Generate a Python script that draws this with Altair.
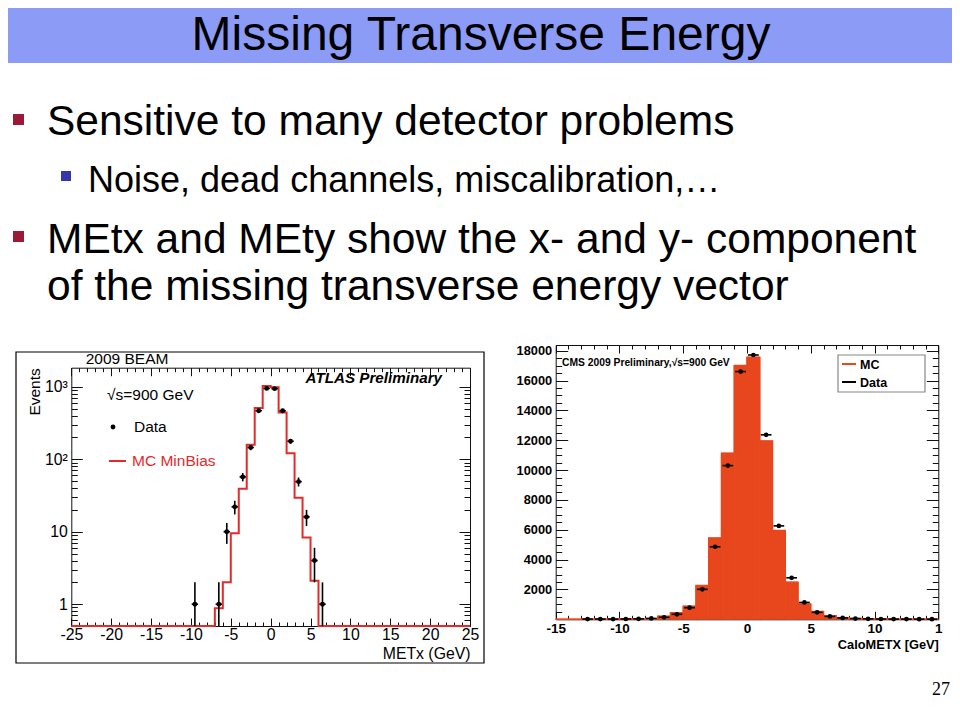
import altair as alt
import pandas as pd

FONT = "Liberation Sans"
RED = "#e52a2a"
ORANGE = "#e8461c"

# ---------------- slide text ----------------
slide_title = "Missing Transverse Energy"
bullet_1 = "Sensitive to many detector problems"
sub_bullet_1 = "Noise, dead channels, miscalibration,…"
bullet_2a = "MEtx and MEty show the x- and y- component"
bullet_2b = "of the missing transverse energy vector"
page_no = "27"

# ---------------- ATLAS plot data ----------------
atlas_bin_lo = [-7, -6, -5, -4, -3, -2, -1, 0, 1, 2, 3, 4, 5]          # bins of 1 GeV
atlas_mc = [0.88, 2.0, 9.5, 39, 158, 507, 1020, 980, 442, 121, 29.5, 8.3, 2.1]
atlas_x = [-9.5, -6.5, -5.5, -4.5, -3.5, -2.5, -1.5, -0.5, 0.5, 1.5, 2.5, 3.5, 4.5, 5.5, 6.5]
atlas_n = [1, 1, 10, 22, 57, 145, 466, 948, 940, 466, 177, 49, 16, 4, 1]
atlas_err = [1, 1, 3.2, 4.7, 7.5, 12, 21.6, 30.8, 30.7, 21.6, 13.3, 7, 4, 2, 1]

# ---------------- CMS plot data ----------------
cms_bin_lo = [-15, -14, -13, -12, -11, -10, -9, -8, -7, -6, -5, -4, -3, -2, -1,
              0, 1, 2, 3, 4, 5, 6, 7, 8, 9, 10, 11, 12, 13, 14]
cms_mc = [5, 5, 5, 8, 10, 12, 20, 45, 200, 440, 880, 2260, 5440, 11130, 17000,
          17560, 11950, 5950, 2490, 1020, 520, 230, 100, 50, 25, 15, 10, 8, 6, 5]
cms_x = [-12.5, -11.5, -10.5, -9.5, -8.5, -7.5, -6.5, -5.5, -4.5, -3.5, -2.5, -1.5, -0.5,
         0.5, 1.5, 2.5, 3.5, 4.5, 5.5, 6.5, 7.5, 8.5, 9.5, 10.5, 11.5, 12.5, 13.5, 14.5]
cms_n = [15, 15, 15, 20, 30, 60, 135, 335, 780, 2010, 4860, 10300, 16600,
         17710, 12360, 6260, 2780, 1130, 465, 190, 90, 50, 30, 20, 15, 12, 10, 10]

# ---------------- tables ----------------
L_FLOOR = 0.5
df_lstep = pd.DataFrame({
    "x": [-25] + atlas_bin_lo + [atlas_bin_lo[-1] + 1, 25],
    "y": [L_FLOOR] + atlas_mc + [L_FLOOR, L_FLOOR],
})
df_lpts = pd.DataFrame({"x": atlas_x, "n": atlas_n, "e": atlas_err})
df_lpts["lo"] = (df_lpts["n"] - df_lpts["e"]).clip(lower=L_FLOOR)
df_lpts["hi"] = df_lpts["n"] + df_lpts["e"]
df_lpts["xlo"] = df_lpts["x"] - 0.4
df_lpts["xhi"] = df_lpts["x"] + 0.4

df_rbars = pd.DataFrame({"lo": cms_bin_lo, "v": cms_mc})
df_rbars["hi"] = df_rbars["lo"] + 1
df_rstep = pd.DataFrame({"x": cms_bin_lo + [cms_bin_lo[-1] + 1], "y": cms_mc + [cms_mc[-1]]})
df_rpts = pd.DataFrame({"x": cms_x, "n": cms_n})
df_rpts["xlo"] = df_rpts["x"] - 0.42
df_rpts["xhi"] = df_rpts["x"] + 0.42

ONE = pd.DataFrame({"k": [0]})

W, H = 944, 704

# ---------------- scales ----------------
L_X0, L_X1, L_YB, L_YT = 63.3, 462.0, 618.0, 359.7
R_X0, R_X1, R_YB, R_YT = 547.7, 930.3, 611.3, 337.0

L_XS = alt.Scale(domain=[-25, 25], range=[L_X0, L_X1], nice=False, zero=False)
L_YS = alt.Scale(type="log", domain=[L_FLOOR, 1830], range=[L_YB, L_YT], nice=False)
R_XS = alt.Scale(domain=[-15, 15], range=[R_X0, R_X1], nice=False, zero=False)
R_YS = alt.Scale(domain=[0, 18380], range=[R_YB, R_YT], nice=False, zero=False)

L_XMAJ = [-25, -20, -15, -10, -5, 0, 5, 10, 15, 20, 25]
L_XMIN = list(range(-25, 26))
L_YMAJ = [1, 10, 100, 1000]
L_YMIN = [0.6, 0.7, 0.8, 0.9] + [k for k in range(2, 10)] + [10 * k for k in range(2, 10)] + [100 * k for k in range(2, 10)]
R_XMAJ = [-15, -10, -5, 0, 5, 10, 15]
R_XMIN = list(range(-15, 16))
R_YMAJ = [2000 * k for k in range(0, 10)]
R_YMIN = [500 * k for k in range(0, 37)]

HYPH = "datum.value < 0 ? '-' + (-datum.value) : '' + datum.value"

BASE = dict(grid=False, labelFont=FONT, labelColor="black", domainColor="#111111",
            tickColor="#111111", labelFlush=False, labelOverlap=False, labelBound=False)


def tick_axis(orient, offset, values, size, domain=False):
    return alt.Axis(orient=orient, offset=offset, values=values, ticks=True, tickSize=size,
                    labels=False, domain=domain, title=None, tickWidth=1, domainWidth=1, **BASE)


# ---------------- left (ATLAS) layers ----------------
l_hist = alt.Chart(df_lstep).mark_line(interpolate="step-after", color=RED, strokeWidth=2).encode(
    x=alt.X("x:Q", scale=L_XS, axis=alt.Axis(
        orient="bottom", offset=L_YB - H, values=L_XMAJ, ticks=False, tickSize=0, labels=True,
        domain=True, domainWidth=1, labelFontSize=15.8, labelPadding=1.5, labelExpr=HYPH,
        title="METx (GeV)", titleX=L_X1, titleY=32, titleAlign="right", titleAnchor="end",
        titleBaseline="alphabetic", titleAngle=0, titleFont=FONT, titleFontSize=15.8,
        titleFontWeight="normal", titleColor="black", **BASE)),
    y=alt.Y("y:Q", scale=L_YS, axis=alt.Axis(
        orient="left", offset=-L_X0, values=L_YMAJ, ticks=False, tickSize=0, labels=True,
        domain=True, domainWidth=1, labelFontSize=15.8, labelPadding=4,
        labelExpr="datum.value == 1000 ? '10³' : datum.value == 100 ? '10²' : '' + datum.value",
        title="Events", titleX=31 - L_X0, titleY=L_YT, titleAngle=270, titleAlign="right",
        titleAnchor="end", titleBaseline="alphabetic", titleFont=FONT, titleFontSize=15.5,
        titleFontWeight="normal", titleColor="black", **BASE)),
)

l_xerr = alt.Chart(df_lpts).mark_rule(color="black", strokeWidth=1.6).encode(
    x=alt.X("xlo:Q", scale=L_XS, axis=tick_axis("bottom", L_YT - H, L_XMAJ, 8, domain=True)),
    x2="xhi:Q",
    y=alt.Y("n:Q", scale=L_YS, axis=tick_axis("left", -L_X1, L_YMAJ, 11, domain=True)),
)

l_err = alt.Chart(df_lpts).mark_rule(color="black", strokeWidth=1.6).encode(
    x=alt.X("x:Q", scale=L_XS, axis=tick_axis("top", -L_YB, L_XMIN, 4)),
    y=alt.Y("lo:Q", scale=L_YS, axis=tick_axis("right", L_X0 - W, L_YMIN, 6)),
    y2="hi:Q",
)

l_pts = alt.Chart(df_lpts).mark_circle(color="black", size=24, opacity=1).encode(
    x=alt.X("x:Q", scale=L_XS, axis=tick_axis("top", -L_YB, L_XMAJ, 8)),
    y=alt.Y("n:Q", scale=L_YS, axis=tick_axis("right", L_X0 - W, L_YMAJ, 11)),
)

l_dup = alt.Chart(df_lpts).mark_circle(color="black", size=1, opacity=0).encode(
    x=alt.X("x:Q", scale=L_XS, axis=tick_axis("bottom", L_YT - H, L_XMIN, 4)),
    y=alt.Y("n:Q", scale=L_YS, axis=tick_axis("left", -L_X1, L_YMIN, 6)),
)

# ---------------- right (CMS) layers ----------------
r_bars = alt.Chart(df_rbars).mark_rect(color=ORANGE, stroke=ORANGE, strokeWidth=0.8).encode(
    x=alt.X("lo:Q", scale=R_XS, axis=alt.Axis(
        orient="bottom", offset=R_YB - H, values=R_XMAJ, ticks=False, tickSize=0, labels=True,
        domain=True, domainWidth=1, labelFontSize=13.5, labelFontWeight="bold", labelPadding=2,
        labelExpr="datum.value == 15 ? '1' : (" + HYPH + ")",
        title="CaloMETX [GeV]", titleX=R_X1, titleY=640 - R_YB, titleAlign="right",
        titleAnchor="end", titleBaseline="alphabetic", titleAngle=0, titleFont=FONT,
        titleFontSize=12.8, titleFontWeight="bold", titleColor="black", **BASE)),
    x2="hi:Q",
    y=alt.Y("v:Q", scale=R_YS, axis=alt.Axis(
        orient="left", offset=-R_X0, values=R_YMAJ[1:], ticks=False, tickSize=0, labels=True,
        domain=True, domainWidth=1, labelFontSize=12.8, labelFontWeight="bold", labelPadding=4,
        format="d", title=None, **BASE)),
    y2=alt.datum(0),
)

r_line = alt.Chart(df_rstep).mark_line(interpolate="step-after", color=ORANGE, strokeWidth=1.5).encode(
    x=alt.X("x:Q", scale=R_XS, axis=tick_axis("top", -R_YB, R_XMAJ, 8)),
    y=alt.Y("y:Q", scale=R_YS, axis=tick_axis("right", R_X0 - W, R_YMAJ, 12)),
)

r_xerr = alt.Chart(df_rpts).mark_rule(color="black", strokeWidth=1.6).encode(
    x=alt.X("xlo:Q", scale=R_XS, axis=tick_axis("bottom", R_YT - H, R_XMAJ, 8, domain=True)),
    x2="xhi:Q",
    y=alt.Y("n:Q", scale=R_YS, axis=tick_axis("left", -R_X1, R_YMAJ, 12, domain=True)),
)

r_pts = alt.Chart(df_rpts).mark_circle(color="black", size=22, opacity=1).encode(
    x=alt.X("x:Q", scale=R_XS, axis=tick_axis("top", -R_YB, R_XMIN, 4)),
    y=alt.Y("n:Q", scale=R_YS, axis=tick_axis("right", R_X0 - W, R_YMIN, 6)),
)

r_dup = alt.Chart(df_rpts).mark_circle(color="black", size=1, opacity=0).encode(
    x=alt.X("x:Q", scale=R_XS, axis=tick_axis("bottom", R_YT - H, R_XMIN, 4)),
    y=alt.Y("n:Q", scale=R_YS, axis=tick_axis("left", -R_X1, R_YMIN, 6)),
)


# ---------------- decorations ----------------
def txt(s, x, y, size, color="black", align="left", weight="normal", style="normal",
        font=FONT, angle=0, baseline="alphabetic"):
    return alt.Chart(ONE).mark_text(
        align=align, baseline=baseline, font=font, fontSize=size, fontWeight=weight,
        fontStyle=style, color=color, angle=angle,
    ).encode(x=alt.value(x), y=alt.value(y), text=alt.value(s))


def box(x0, y0, x1, y1, fill=None, stroke=None, sw=1):
    kw = {}
    if fill is not None:
        kw["fill"] = fill
    else:
        kw["fillOpacity"] = 0
        kw["fill"] = "white"
    if stroke is not None:
        kw["stroke"] = stroke
        kw["strokeWidth"] = sw
    return alt.Chart(ONE).mark_rect(**kw).encode(
        x=alt.value(x0), x2=alt.value(x1), y=alt.value(y0), y2=alt.value(y1))


def hline(x0, x1, y, color, sw):
    return alt.Chart(ONE).mark_rule(color=color, strokeWidth=sw).encode(
        x=alt.value(x0), x2=alt.value(x1), y=alt.value(y))


deco = [
    box(0, 0, W, 55, fill="#8c9bf5"),
    txt(slide_title, 473, 42, 48, align="center"),
    box(5, 106, 16, 117, fill="#9b1b36"),
    txt(bullet_1, 39, 127, 42.5),
    box(53, 163, 63, 173, fill="#3535b0"),
    txt(sub_bullet_1, 80, 184, 36),
    box(5, 223, 16, 234, fill="#9b1b36"),
    txt(bullet_2a, 39, 245, 42.5),
    txt(bullet_2b, 39, 292, 42.5),
    txt(page_no, 942, 687, 18, font="Liberation Serif", align="right"),
    # ATLAS plot annotations
    txt("2009 BEAM", 77.7, 356, 15.5),
    txt("ATLAS Preliminary", 434, 375, 15.2, weight="bold", style="italic", align="right"),
    txt("√s=900 GeV", 99, 392, 15.5),
    alt.Chart(ONE).mark_circle(color="black", size=24, opacity=1).encode(
        x=alt.value(105), y=alt.value(419)),
    txt("Data", 126, 424, 15.5),
    hline(101, 118, 453, RED, 2),
    txt("MC MinBias", 124, 458, 15.5, color=RED),
    # CMS plot annotations
    txt("CMS 2009 Preliminary,√s=900 GeV", 554, 358, 10.3, weight="bold"),
    box(830, 347, 917, 384, fill="white", stroke="#888888", sw=1.2),
    hline(834, 848, 356, ORANGE, 2),
    txt("MC", 852, 361, 12.5, weight="bold"),
    hline(834, 848, 374, "black", 2),
    txt("Data", 852, 379, 12.5, weight="bold"),
]

frame = [box(8, 344, 476, 655, stroke="black", sw=1.2)]

layers = deco[:1] + [l_hist, l_xerr, l_err, l_pts, l_dup,
                     r_bars, r_line, r_xerr, r_pts, r_dup] + deco[1:] + frame

chart = alt.layer(*layers).properties(
    width=W, height=H, padding=0, background="white",
    autosize=alt.AutoSizeParams(type="none"),
).resolve_scale(x="independent", y="independent").configure_view(stroke=None)

chart.save("out.html", embed_options={"renderer": "svg", "actions": False})
